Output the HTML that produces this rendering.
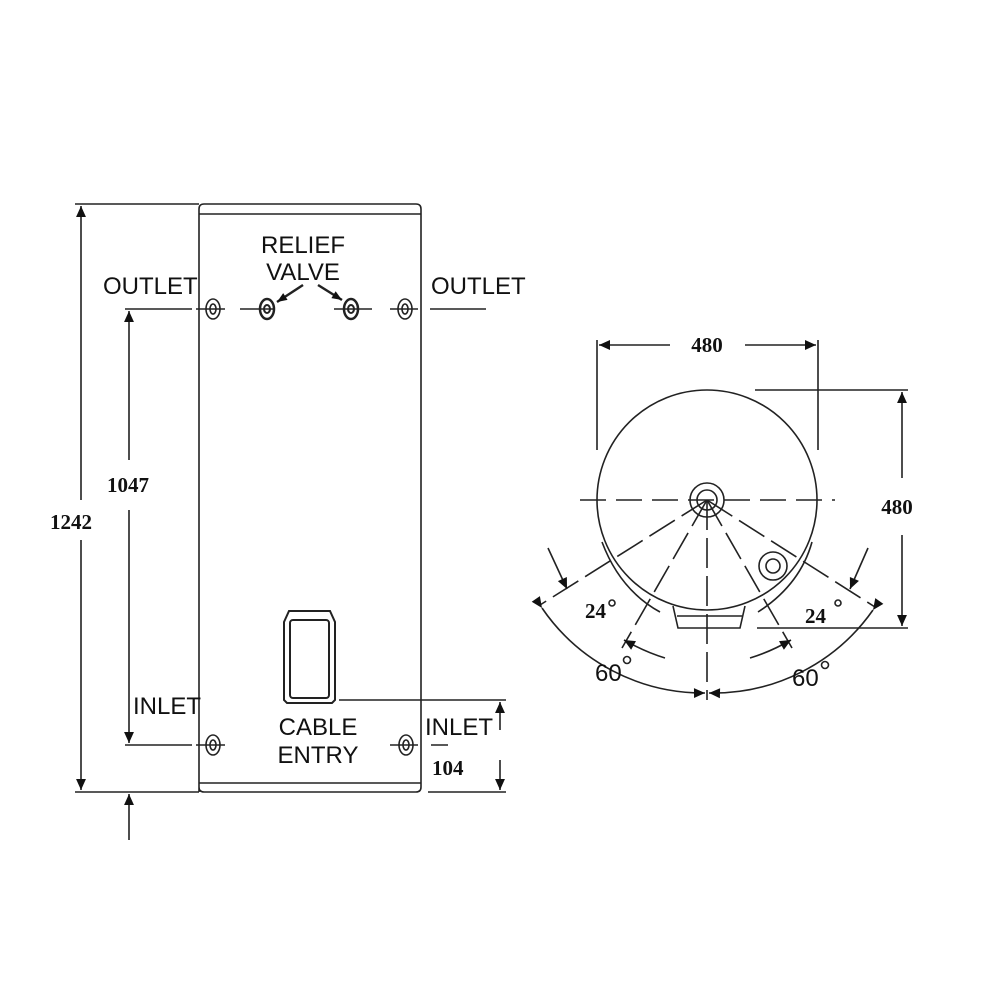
<!DOCTYPE html>
<html><head><meta charset="utf-8"><style>
html,body{margin:0;padding:0;background:#fff}
svg{display:block}
.s{font-family:"Liberation Sans",sans-serif;font-size:24px;fill:#111}
.b{font-family:"Liberation Serif",serif;font-size:21px;font-weight:bold;fill:#111}
</style></head><body>
<svg width="1000" height="1000" viewBox="0 0 1000 1000" xmlns="http://www.w3.org/2000/svg">
<defs>
<marker id="a" viewBox="0 0 10 10" refX="10" refY="5" markerWidth="14" markerHeight="10" markerUnits="userSpaceOnUse" orient="auto">
<path d="M0,1 L10,5 L0,9 Z" fill="#111"/></marker>
<marker id="a2" viewBox="0 0 10 10" refX="10" refY="5" markerWidth="26" markerHeight="11" markerUnits="userSpaceOnUse" orient="auto">
<path d="M0,0.5 L10,5 L0,9.5 Z" fill="#111"/></marker>
</defs>
<g stroke="#222" fill="none" stroke-width="1.6">
<!-- tank -->
<path d="M199,792 L199,209 Q199,204 204,204 L416,204 Q421,204 421,209 L421,787 Q421,792 416,792 L204,792 Q199,792 199,787"/>
<line x1="199" y1="214" x2="421" y2="214"/>
<line x1="199" y1="783" x2="421" y2="783"/>
<!-- left dims -->
<line x1="75" y1="204" x2="199" y2="204"/>
<line x1="75" y1="792" x2="199" y2="792"/>
<line x1="81" y1="500" x2="81" y2="206" marker-end="url(#a2)"/>
<line x1="81" y1="540" x2="81" y2="790" marker-end="url(#a2)"/>
<line x1="129" y1="460" x2="129" y2="311" marker-end="url(#a2)"/>
<line x1="129" y1="510" x2="129" y2="743" marker-end="url(#a2)"/>
<line x1="129" y1="840" x2="129" y2="794" marker-end="url(#a2)"/>
<!-- outlet centerlines -->
<line x1="125" y1="309" x2="192" y2="309"/>
<line x1="196" y1="309" x2="225" y2="309"/>
<line x1="240" y1="309" x2="275" y2="309"/>
<line x1="334" y1="309" x2="372" y2="309"/>
<line x1="390" y1="309" x2="418" y2="309"/>
<line x1="430" y1="309" x2="486" y2="309"/>
<!-- inlet centerlines -->
<line x1="125" y1="745" x2="192" y2="745"/>
<line x1="196" y1="745" x2="225" y2="745"/>
<line x1="390" y1="745" x2="418" y2="745"/>
<line x1="431" y1="745" x2="448" y2="745"/>
<!-- fittings -->
<ellipse cx="213" cy="309" rx="7" ry="10"/><ellipse cx="213" cy="309" rx="3" ry="5"/>
<ellipse cx="267" cy="309" rx="7" ry="10" stroke-width="2.5"/><ellipse cx="267" cy="309" rx="3" ry="4" stroke-width="2"/>
<ellipse cx="351" cy="309" rx="7" ry="10" stroke-width="2.5"/><ellipse cx="351" cy="309" rx="3" ry="4" stroke-width="2"/>
<ellipse cx="405" cy="309" rx="7" ry="10"/><ellipse cx="405" cy="309" rx="3" ry="5"/>
<ellipse cx="213" cy="745" rx="7" ry="10"/><ellipse cx="213" cy="745" rx="3" ry="5"/>
<ellipse cx="406" cy="745" rx="7" ry="10"/><ellipse cx="406" cy="745" rx="3" ry="5"/>
<!-- relief arrows -->
<line x1="303" y1="285" x2="277" y2="302" marker-end="url(#a)" stroke-width="2.5"/>
<line x1="318" y1="285" x2="342" y2="300" marker-end="url(#a)" stroke-width="2.5"/>
<!-- cable entry -->
<path d="M284,622 L289,611 L330,611 L335,622 L335,700 L332,703 L287,703 L284,700 Z" stroke-width="2"/>
<rect x="290" y="620" width="39" height="78" rx="3" stroke-width="2"/>
<line x1="339" y1="700" x2="506" y2="700"/>
<line x1="428" y1="792" x2="506" y2="792"/>
<line x1="500" y1="730" x2="500" y2="702" marker-end="url(#a2)"/>
<line x1="500" y1="760" x2="500" y2="790" marker-end="url(#a2)"/>
<!-- plan view -->
<circle cx="707" cy="500" r="110"/>
<circle cx="707" cy="500" r="17"/>
<circle cx="707" cy="500" r="10"/>
<circle cx="773" cy="566" r="14"/>
<circle cx="773" cy="566" r="7"/>
<path d="M673,606 L678,628 L740,628 L745,606"/>
<line x1="677" y1="616" x2="742" y2="616"/>
<path d="M602,542 Q620,590 660,612" />
<path d="M812,542 Q800,585 758,612" />
<line x1="580" y1="500" x2="835" y2="500" stroke-dasharray="26,10"/>
<line x1="707" y1="500" x2="707" y2="700" stroke-dasharray="30,8"/>
<line x1="707" y1="500" x2="540" y2="605" stroke-dasharray="30,8"/>
<line x1="707" y1="500" x2="875" y2="607" stroke-dasharray="30,8"/>
<line x1="707" y1="500" x2="622" y2="648" stroke-dasharray="30,8"/>
<line x1="707" y1="500" x2="792" y2="648" stroke-dasharray="30,8"/>
<!-- top 480 -->
<line x1="597" y1="340" x2="597" y2="450"/>
<line x1="818" y1="340" x2="818" y2="450"/>
<line x1="670" y1="345" x2="599" y2="345" marker-end="url(#a2)"/>
<line x1="745" y1="345" x2="816" y2="345" marker-end="url(#a2)"/>
<!-- right 480 -->
<line x1="755" y1="390" x2="908" y2="390"/>
<line x1="757" y1="628" x2="908" y2="628"/>
<line x1="902" y1="478" x2="902" y2="392" marker-end="url(#a2)"/>
<line x1="902" y1="535" x2="902" y2="626" marker-end="url(#a2)"/>
<!-- 24 arrows -->
<line x1="548" y1="548" x2="567" y2="589" marker-end="url(#a2)"/>
<line x1="868" y1="548" x2="850" y2="589" marker-end="url(#a2)"/>
<!-- 60 arcs -->
<path d="M542,608 A195,195 0 0 0 705,693" marker-start="url(#a2)" marker-end="url(#a2)"/>
<path d="M873,610 A195,195 0 0 1 709,693" marker-start="url(#a2)" marker-end="url(#a2)"/>
<path d="M665,658 Q645,652 624,640" marker-end="url(#a2)"/>
<path d="M750,658 Q770,652 791,640" marker-end="url(#a2)"/>
<circle cx="612" cy="603" r="3"/>
<circle cx="838" cy="603" r="3"/>
<circle cx="627" cy="660" r="3.5"/>
<circle cx="825" cy="665" r="3.5"/>
</g>
<text class="s" x="103" y="294">OUTLET</text>
<text class="s" x="431" y="294">OUTLET</text>
<text class="s" x="303" y="253" text-anchor="middle">RELIEF</text>
<text class="s" x="303" y="280" text-anchor="middle">VALVE</text>
<text class="s" x="133" y="714">INLET</text>
<text class="s" x="425" y="735">INLET</text>
<text class="s" x="318" y="735" text-anchor="middle">CABLE</text>
<text class="s" x="318" y="763" text-anchor="middle">ENTRY</text>
<text class="b" x="50" y="529">1242</text>
<text class="b" x="107" y="492">1047</text>
<text class="b" x="432" y="775">104</text>
<text class="b" x="707" y="352" text-anchor="middle">480</text>
<text class="b" x="897" y="514" text-anchor="middle">480</text>
<text class="b" x="585" y="618">24</text>
<text class="b" x="805" y="623">24</text>
<text class="s" x="595" y="681">60</text>
<text class="s" x="792" y="686">60</text>
</svg>
</body></html>
